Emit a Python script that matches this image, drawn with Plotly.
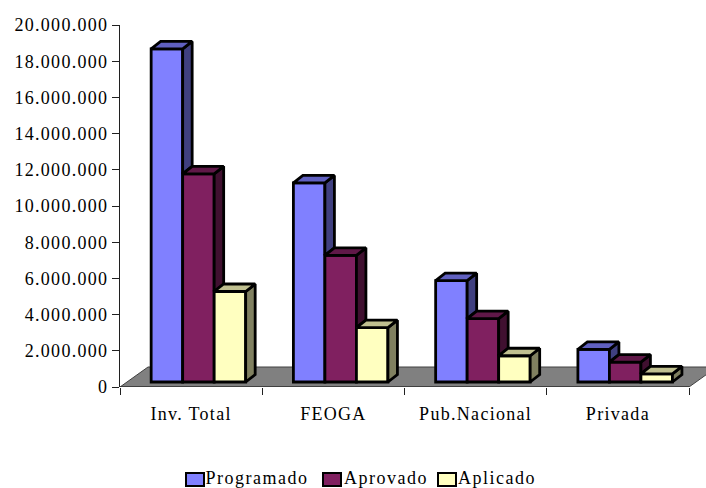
import plotly.graph_objects as go

categories = ["Inv. Total", "FEOGA", "Pub.Nacional", "Privada"]
programado = [18400000, 11000000, 5600000, 1800000]
aprovado = [11500000, 7000000, 3500000, 1100000]
aplicado = [5000000, 3000000, 1450000, 450000]
y_ticks = [0, 2000000, 4000000, 6000000, 8000000, 10000000, 12000000, 14000000, 16000000, 18000000, 20000000]
y_labels = ["0", "2.000.000", "4.000.000", "6.000.000", "8.000.000", "10.000.000", "12.000.000",
            "14.000.000", "16.000.000", "18.000.000", "20.000.000"]

W, H = 706, 488
L, R, T, B = 120, 0, 25, 101
cat_px = 142.25
X_MAX = (W - L - R) / cat_px
Y_MAX = 20000000
px_y = Y_MAX / (H - T - B)
px_x = 1 / cat_px

FONT = "Liberation Serif"
series = [
    ("Programado", programado, "#8080FF", "#6060C0", "#404080"),
    ("Aprovado", aprovado, "#802060", "#601848", "#401030"),
    ("Aplicado", aplicado, "#FFFFC0", "#C0C090", "#808060"),
]
START, BW = 0.219, 0.2215
BASE = 5 * px_y
DX, DY = 9.5 * px_x, 7.5 * px_y
EDGE = 2.8

fig = go.Figure()
xs = list(range(len(categories)))

# floor of the 3D plot
floor_dx = 28 * px_x
floor_h = 20 * px_y
fig.add_shape(type="path", layer="below", xref="x", yref="y",
              path=f"M 0 0 L {floor_dx} {floor_h} L {len(categories) + floor_dx} {floor_h} L {len(categories)} 0 Z",
              fillcolor="#808080", line=dict(color="#404040", width=1))

for s, (name, vals, front, top, side) in enumerate(series):
    fig.add_trace(go.Bar(x=xs, y=vals, base=BASE, name=name, width=BW, offset=START + s * BW,
                         marker=dict(color=front, line=dict(color="black", width=EDGE)),
                         showlegend=False, hoverinfo="x+y"))

# side faces, then top faces, of every bar
for s, (name, vals, front, top, side) in enumerate(series):
    for i, v in enumerate(vals):
        xr = i + START + (s + 1) * BW
        yt = v + BASE
        yb = series[s + 1][1][i] + BASE if s + 1 < len(series) else BASE
        fig.add_trace(go.Scatter(x=[xr, xr + DX, xr + DX, xr, xr], y=[yt, yt + DY, yb + DY, yb, yt],
                                 mode="lines", fill="toself", fillcolor=side,
                                 line=dict(color="black", width=EDGE), showlegend=False, hoverinfo="skip"))
for s, (name, vals, front, top, side) in enumerate(series):
    for i, v in enumerate(vals):
        xl = i + START + s * BW
        xr = xl + BW
        yt = v + BASE
        fig.add_trace(go.Scatter(x=[xl, xl + DX, xr + DX, xr, xl], y=[yt, yt + DY, yt + DY, yt, yt],
                                 mode="lines", fill="toself", fillcolor=top,
                                 line=dict(color="black", width=EDGE), showlegend=False, hoverinfo="skip"))

# x axis line stops at the last category boundary
fig.add_shape(type="line", xref="x", yref="y", x0=0, x1=len(categories), y0=0, y1=0,
              line=dict(color="#202020", width=1.2))

# legend row
legend_px = [(186, 257, 0), (323, 385.5, 1), (438, 497, 2)]
for sx, tx, s in legend_px:
    name, vals, front, top, side = series[s]
    fig.add_shape(type="rect", xref="paper", yref="paper",
                  x0=(sx - L) / (W - L), x1=(sx + 18 - L) / (W - L),
                  y0=(H - B - 486) / (H - T - B), y1=(H - B - 473) / (H - T - B),
                  fillcolor=front, line=dict(color="black", width=2))
    fig.add_annotation(text=name, xref="paper", yref="paper", showarrow=False,
                       x=(tx - L) / (W - L), xanchor="center",
                       y=(H - B - 477.5) / (H - T - B), yanchor="middle",
                       font=dict(family=FONT, size=18, color="black"))

fig.update_layout(
    width=W, height=H, autosize=False,
    margin=dict(l=L, r=R, t=T, b=B, pad=0),
    paper_bgcolor="white", plot_bgcolor="white", showlegend=False,
    xaxis=dict(range=[0, X_MAX], tickmode="array", tickvals=[i + 0.5 for i in xs], ticktext=categories,
               ticks="", showgrid=False, zeroline=False, showline=False, ticklabelstandoff=14,
               tickfont=dict(family=FONT, size=18, color="black"),
               minor=dict(tickmode="array", tickvals=list(range(len(categories) + 1)), ticks="outside",
                          ticklen=7, tickwidth=1, tickcolor="#202020", showgrid=False)),
    yaxis=dict(range=[0, Y_MAX], tickmode="array", tickvals=y_ticks, ticktext=y_labels,
               ticks="outside", ticklen=7, tickwidth=1, tickcolor="#202020",
               showgrid=False, zeroline=False, showline=True, linecolor="#202020", linewidth=1,
               tickfont=dict(family=FONT, size=18, color="black")),
)

post = """
document.body.style.margin='0';
document.documentElement.style.overflow='hidden';
var st=document.createElement('style');
st.textContent='.xtick text,.ytick text{letter-spacing:1.3px}.annotation-text{letter-spacing:1.5px}';
document.head.appendChild(st);
"""
fig.write_html("out.html", config={"displayModeBar": False}, post_script=post)
